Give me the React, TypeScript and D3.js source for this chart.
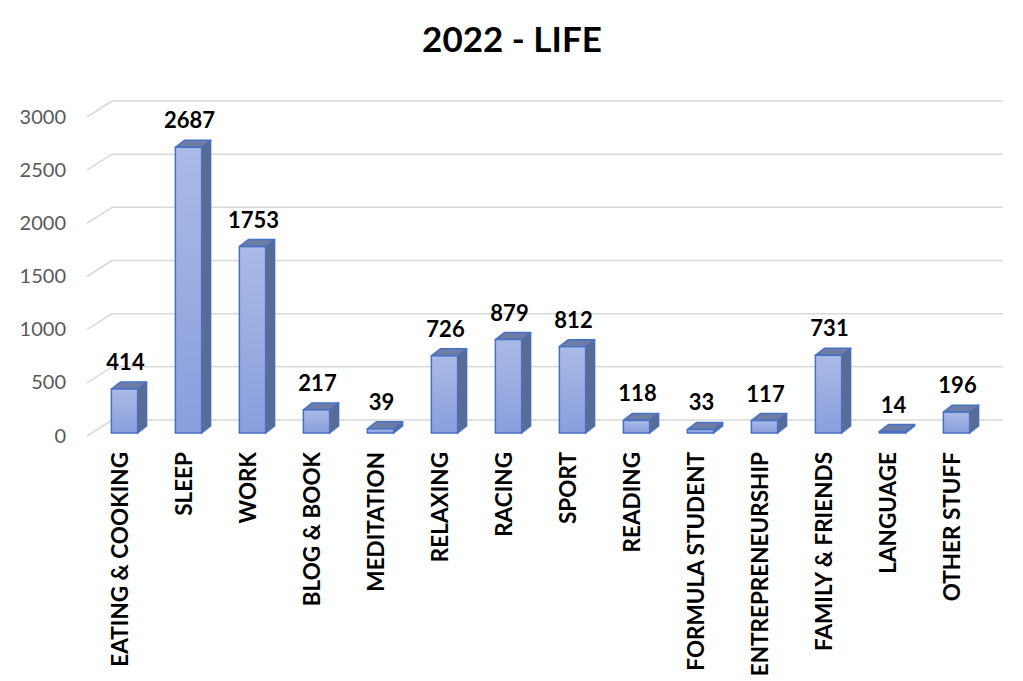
import React from "react";
import * as d3 from "d3";

const categories = [
  "EATING & COOKING", "SLEEP", "WORK", "BLOG & BOOK", "MEDITATION", "RELAXING", "RACING",
  "SPORT", "READING", "FORMULA STUDENT", "ENTREPRENEURSHIP", "FAMILY & FRIENDS", "LANGUAGE", "OTHER STUFF",
];
const values = [414, 2687, 1753, 217, 39, 726, 879, 812, 118, 33, 117, 731, 14, 196];
const yTicks = [0, 500, 1000, 1500, 2000, 2500, 3000];
const title = "2022 - LIFE";

const W = 1023, H = 681;
const FONT = "Lato, 'Open Sans', sans-serif";

export default function App() {
  const x = d3.scaleBand<string>().domain(categories).range([92.5, 988.5]).paddingInner(0.59).paddingOuter(0.295);
  const yFront = d3.scaleLinear().domain([0, 3000]).range([433, 114]);
  const wallDx = 25, wallDy = 16;
  const barDx = 9, barDy = 7;
  const yBack = (v: number) => yFront(v) + 3 - wallDy;
  const wallLeft = 87 + wallDx, wallRight = 1003;

  return (
    <svg width={W} height={H} style={{ position: "absolute", left: 0, top: 0 }}>
      <defs>
        <linearGradient id="frontGrad" x1="0" y1="0" x2="0" y2="1">
          <stop offset="0%" stopColor="#abbae6" />
          <stop offset="100%" stopColor="#889fdc" />
        </linearGradient>
      </defs>
      <rect width={W} height={H} fill="#fff" />
      <text x={512} y={52} textAnchor="middle" fontFamily={FONT} fontWeight={700} fontSize={35} fill="#000">{title}</text>
      {yTicks.map((t) => (
        <g key={t}>
          <line x1={wallLeft} x2={wallRight} y1={yBack(t)} y2={yBack(t)} stroke="#d9d9d9" strokeWidth={1.5} />
          <line x1={wallLeft - wallDx} x2={wallLeft} y1={yBack(t) + wallDy} y2={yBack(t)} stroke="#d9d9d9" strokeWidth={1.5} />
          <text x={66} y={yBack(t) + wallDy + 6.5} textAnchor="end" fontFamily={FONT} fontSize={20} fill="#595959">{t}</text>
        </g>
      ))}
      {categories.map((c, i) => {
        const v = values[i];
        const x0 = x(c)!;
        const w = x.bandwidth();
        const x1 = x0 + w;
        const yt = yFront(v);
        const yb = yFront(0);
        const top = `M${x0},${yt} L${x0 + barDx},${yt - barDy} L${x1 + barDx},${yt - barDy} L${x1},${yt} Z`;
        const side = `M${x1},${yt} L${x1 + barDx},${yt - barDy} L${x1 + barDx},${yb - barDy} L${x1},${yb} Z`;
        return (
          <g key={c}>
            <path d={side} fill="#5d6a92" stroke="#4472c4" strokeWidth={1.5} strokeLinejoin="round" />
            <path d={top} fill="#6e7ca6" stroke="#4472c4" strokeWidth={1.5} strokeLinejoin="round" />
            <rect x={x0} y={yt} width={w} height={yb - yt} fill="url(#frontGrad)" stroke="#4472c4" strokeWidth={1.5} />
            <text x={x0 + w / 2 + 1} y={yt - barDy - 12} textAnchor="middle" fontFamily={FONT} fontWeight={700} fontSize={22} fill="#000">{v}</text>
            <text transform={`translate(${x0 + w / 2 + 3},452) rotate(-90)`} textAnchor="end" fontFamily={FONT} fontWeight={700} fontSize={22.5} fill="#000">{c}</text>
          </g>
        );
      })}
    </svg>
  );
}
